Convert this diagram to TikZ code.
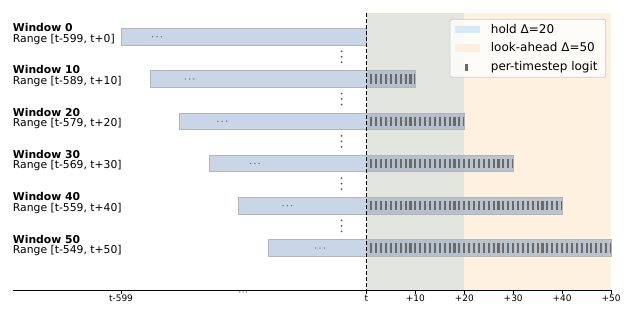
\documentclass[tikz,border=0pt]{standalone}
\usepackage{fontspec}
\setmainfont{DejaVu Sans}
\definecolor{barblue}{RGB}{176,196,222}
\definecolor{bargray}{RGB}{180,180,180}
\definecolor{holdc}{RGB}{227,230,223}
\definecolor{lookc}{RGB}{254,241,224}
\definecolor{holdleg}{RGB}{214,233,246}
\definecolor{lookleg}{RGB}{253,240,222}
\definecolor{tickc}{RGB}{105,105,105}
\definecolor{legbd}{RGB}{204,204,204}
\definecolor{dotc}{RGB}{110,110,110}
\begin{document}
\begin{tikzpicture}[x=1pt,y=-1pt,
  lbl/.style={font=\fontsize{10.8}{12}\selectfont, anchor=base west, inner sep=0pt},
  lblb/.style={font=\fontsize{10.8}{12}\selectfont\bfseries, anchor=base west, inner sep=0pt},
  ticklbl/.style={font=\fontsize{9}{10}\selectfont, anchor=base, inner sep=0pt},
  leg/.style={font=\fontsize{12}{14}\selectfont, anchor=base west, inner sep=0pt},
  logit/.style={fill=tickc},
  dotmark/.style={fill=dotc}]
\useasboundingbox (0,0) rectangle (634,317);
% background regions
\fill[lookc] (366.5,13) rectangle (611,290);
\fill[holdc] (366.5,13) rectangle (464.3,290);
% windows
\foreach \i in {0,...,5} {
  \pgfmathsetmacro\xs{121+29.4*\i}
  \pgfmathsetmacro\xe{366.5+48.9*\i}
  \pgfmathsetmacro\yc{36.7+42.26*\i}
  \pgfmathsetmacro\xd{157+32.6*\i}
  \pgfmathtruncatemacro\N{10*\i}
  \pgfmathtruncatemacro\R{599-10*\i}
  \fill[barblue, opacity=0.7] (\xs,\yc-8.35) rectangle (\xe,\yc+8.35);
  \ifnum\N>0
    \fill[gray, opacity=0.17] (366.5,\yc-8.35) rectangle (\xe,\yc+8.35);
    \foreach \k in {1,...,\N} {
      \fill[logit] (366.5+4.89*\k-1.05,\yc-4.6) rectangle (366.5+4.89*\k+1.05,\yc+4.6);
    }
  \fi
  \draw[bargray, line width=0.7pt] (\xs,\yc-8.35) rectangle (\xe,\yc+8.35);
  \foreach \d in {-4.3,0,4.3} { \fill[dotmark] (\xd+\d,\yc) circle (0.75); }
  \node[lblb] (w\i) at (12.7,\yc-5) {Window \N};
  \node[lbl] (r\i) at (12.7,\yc+5.4) {Range [t-\R, t+\N]};
}
% vertical ellipses between windows
\foreach \i in {0,...,4} {
  \pgfmathsetmacro\ym{36.7+42.26*\i+21.13-1}
  \foreach \d in {-5.5,0,5.5} { \fill[black!65] (341.6,\ym+\d) circle (1.0); }
}
% axis
\coordinate (axL) at (12.5,290);
\coordinate (axR) at (611.5,290);
\draw[line width=0.8pt] (axL) -- (axR);
\foreach \x/\t [count=\n] in {121/t-599, 366.5/t, 415.4/+10, 464.3/+20, 513.2/+30, 562.1/+40, 611/+50} {
  \draw[line width=0.8pt] (\x,290) -- (\x,293.5);
  \node[ticklbl] (tl\n) at (\x,301.8) {\t};
}
\foreach \d in {-3.2,0,3.2} { \fill[black!75] (243+\d,292) circle (0.65); }
% dashed present line
\coordinate (dT) at (366.5,13);
\coordinate (dB) at (366.5,290);
\draw[line width=1.3pt, dash pattern=on 4pt off 2pt] (dT) -- (dB);
% legend
\draw[fill=white, fill opacity=0.8, draw=legbd, line width=0.8pt, rounded corners=2pt] (450,19.3) rectangle (605.7,77.3);
\fill[holdleg] (455,25.7) rectangle (480,33.3);
\fill[lookleg] (455,43.6) rectangle (480,51.6);
\fill[logit] (465,63.5) rectangle (468.2,70.5);
\node[leg] (lg1) at (490.7,33.3) {hold Δ=20};
\node[leg] (lg2) at (490.7,51.6) {look-ahead Δ=50};
\node[leg] (lg3) at (490.7,70) {per-timestep logit};
\end{tikzpicture}
\end{document}
